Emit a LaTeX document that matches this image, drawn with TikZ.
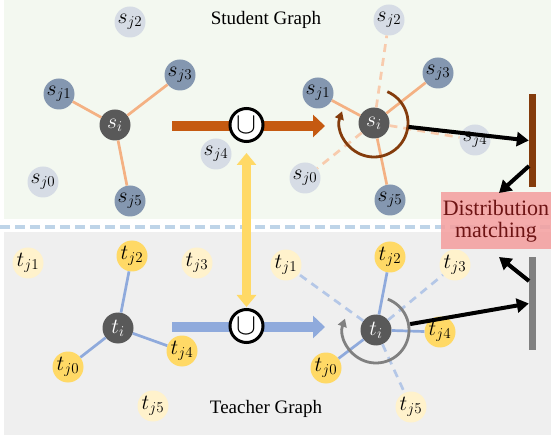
\documentclass[tikz,border=0pt]{standalone}
\usepackage{graphicx}
\usepackage{fontspec}
\setmainfont{Liberation Serif}
\usetikzlibrary{arrows.meta}

\definecolor{greenbg}{RGB}{243,248,240}
\definecolor{graybg}{RGB}{239,239,239}
\definecolor{sepblue}{RGB}{190,212,232}
\definecolor{sdarkc}{RGB}{132,151,176}
\definecolor{slightc}{RGB}{214,220,229}
\definecolor{centerc}{RGB}{89,89,89}
\definecolor{tdarkc}{RGB}{255,217,102}
\definecolor{tlightc}{RGB}{255,242,204}
\definecolor{sedgec}{RGB}{244,177,131}
\definecolor{sdashc}{RGB}{248,203,173}
\definecolor{tedgec}{RGB}{143,170,220}
\definecolor{tdashc}{RGB}{180,199,231}
\definecolor{sflowc}{RGB}{197,90,17}
\definecolor{brownc}{RGB}{132,60,12}
\definecolor{boxc}{RGB}{244,160,160}
\definecolor{boxtext}{RGB}{110,20,20}

\newcommand{\glabel}[1]{\scalebox{1.25}{$#1$}}

\tikzset{
  gnode/.style={circle, minimum size=31pt, inner sep=0pt, font=\fontsize{17.28}{17}\selectfont},
  sdark/.style={gnode, fill=sdarkc},
  slight/.style={gnode, fill=slightc},
  tdark/.style={gnode, fill=tdarkc},
  tlight/.style={gnode, fill=tlightc},
  hub/.style={gnode, fill=centerc, text=white},
  sedge/.style={draw=sedgec, line width=2.7pt},
  sdash/.style={draw=sdashc, line width=2.7pt, dash pattern=on 8pt off 6pt},
  tedge/.style={draw=tedgec, line width=2.7pt},
  tdash/.style={draw=tdashc, line width=2.7pt, dash pattern=on 8pt off 6pt},
  flow/.style={line width=10pt, -{Triangle[length=12pt, width=22pt]}},
  unionnode/.style={circle, draw, line width=3pt, fill=white, minimum size=33pt, inner sep=0pt,
    font=\fontsize{24.88}{25}\selectfont},
  turn/.style={line width=2.8pt, -{Triangle[length=8pt, width=9pt]}},
  blk/.style={line width=4pt, -{Triangle[length=12pt, width=14pt]}},
  title/.style={font=\fontsize{19}{19}\selectfont},
}

\begin{document}
\begin{tikzpicture}[x=1pt, y=-1pt]
        \useasboundingbox (0,0) rectangle (551,435);

        % Backgrounds
        \fill[greenbg] (4,0) rectangle (551,219);
        \fill[graybg] (4,232) rectangle (551,435);
        \draw[sepblue, line width=4pt, dash pattern=on 10pt off 5pt] (0,227) -- (551,227);

        \node[title] (stitle) at (266,20) {Student Graph};
        \node[title] (ttitle) at (266,409) {Teacher Graph};

        % Student graph, left
        \node[hub] (sa) at (115,125) {\glabel{s_i}};
        \foreach \n/\x/\y in {1/59/94, 3/180/75, 5/130/201} {
            \node[sdark] (sa\n) at (\x,\y) {\glabel{s_{j\n}}};
        }
        \foreach \n/\x/\y in {0/43/182, 2/130/22, 4/216/154} {
            \node[slight] (sa\n) at (\x,\y) {\glabel{s_{j\n}}};
        }
        \foreach \n in {1,3,5} {
            \draw[sedge] (sa) -- (sa\n);
        }

        % Student graph, right
        \node[hub] (sb) at (374,123) {\glabel{s_i}};
        \foreach \n/\x/\y in {1/318/93, 3/438/73, 5/390/200} {
            \node[sdark] (sb\n) at (\x,\y) {\glabel{s_{j\n}}};
        }
        \foreach \n/\x/\y in {0/305/178, 2/389/20, 4/475/140} {
            \node[slight] (sb\n) at (\x,\y) {\glabel{s_{j\n}}};
        }
        \foreach \n in {1,3,5} {
            \draw[sedge] (sb) -- (sb\n);
        }
        \foreach \n in {0,2,4} {
            \draw[sdash] (sb) -- (sb\n);
        }
        \draw[turn, brownc] (sb) ++(-67:34) arc[start angle=-67, end angle=200, radius=34];

        % Teacher graph, left
        \node[hub] (ta) at (118,328) {\glabel{t_i}};
        \foreach \n/\x/\y in {0/68/367, 2/132/256, 4/182/351} {
            \node[tdark] (ta\n) at (\x,\y) {\glabel{t_{j\n}}};
        }
        \foreach \n/\x/\y in {1/28/263, 3/197/263, 5/153/406} {
            \node[tlight] (ta\n) at (\x,\y) {\glabel{t_{j\n}}};
        }
        \foreach \n in {0,2,4} {
            \draw[tedge] (ta) -- (ta\n);
        }

        % Teacher graph, right
        \node[hub] (tb) at (376,330) {\glabel{t_i}};
        \foreach \n/\x/\y in {0/326/368, 2/390/257, 4/440/332} {
            \node[tdark] (tb\n) at (\x,\y) {\glabel{t_{j\n}}};
        }
        \foreach \n/\x/\y in {1/286/265, 3/455/265, 5/411/407} {
            \node[tlight] (tb\n) at (\x,\y) {\glabel{t_{j\n}}};
        }
        \foreach \n in {0,2,4} {
            \draw[tedge] (tb) -- (tb\n);
        }
        \foreach \n in {1,3,5} {
            \draw[tdash] (tb) -- (tb\n);
        }
        \draw[turn, gray] (tb) ++(-69:33) arc[start angle=-69, end angle=200, radius=33];

        % Union steps
        \coordinate (sin) at (172,126);
        \coordinate (sout) at (325,126);
        \coordinate (tin) at (172,327);
        \coordinate (tout) at (325,327);
        \draw[flow, sflowc] (sin) -- (sout);
        \draw[flow, tedgec] (tin) -- (tout);
        \node[unionnode] (us) at (246.5,125) {\scalebox{1.2}{$\cup$}};
        \node[unionnode] (ut) at (246.5,326) {\scalebox{1.2}{$\cup$}};
        \draw[tdarkc, line width=9pt, {Triangle[length=12pt, width=19pt]}-{Triangle[length=12pt, width=19pt]},
            shorten <=10pt, shorten >=1pt] (us) -- (ut);

        % Distribution matching
        \node[fill=boxc, fill opacity=0.88, text opacity=1, text=boxtext, minimum width=110pt,
            minimum height=57pt, inner sep=0pt, align=center,
            font=\fontsize{22}{22}\selectfont] (dm) at (496,221) {Distribution\\matching};
        \node[fill=brownc, minimum width=7pt, minimum height=93pt, inner sep=0pt] (sbar) at (532.5,140.5) {};
        \node[fill=gray, minimum width=7pt, minimum height=93pt, inner sep=0pt] (tbar) at (532.5,303.5) {};
        \coordinate (sbarlow) at (529,166);
        \coordinate (tbarhigh) at (529,281);
        \coordinate (dmtop) at (499,193);
        \coordinate (dmbottom) at (499,257);
        \draw[blk, shorten <=19pt] (sb) -- (sbar.west);
        \draw[blk, shorten <=19pt] (tb) -- (tbar.west);
        \draw[blk] (sbarlow) -- (dmtop);
        \draw[blk] (tbarhigh) -- (dmbottom);
\end{tikzpicture}
\end{document}
